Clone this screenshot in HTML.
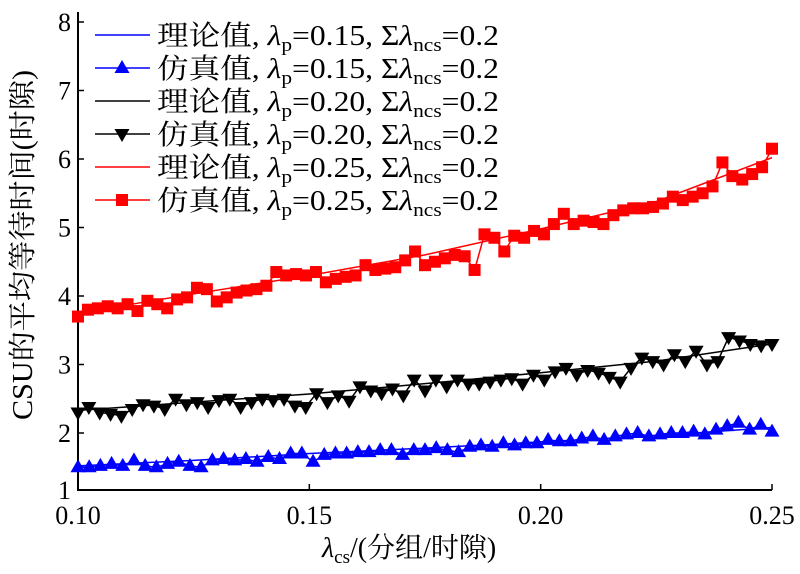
<!DOCTYPE html>
<html><head><meta charset="utf-8"><style>
body{margin:0;background:#fff}
svg text{font-family:"Liberation Serif","Noto Serif CJK SC",serif;fill:#000}
</style></head><body>
<svg id="c" width="800" height="569" xmlns="http://www.w3.org/2000/svg"></svg>
<script>
const xTicks=[0.10,0.15,0.20,0.25];
const xTickLabels=["0.10","0.15","0.20","0.25"];
const yTicks=[1,2,3,4,5,6,7,8];
const theoryX=[0.10,0.125,0.15,0.175,0.20,0.225,0.25];
const theoryRed=[3.75,4.03,4.3,4.6,4.98,5.38,6.02];
const theoryBlack=[2.33,2.45,2.57,2.72,2.88,3.05,3.3];
const theoryBlue=[1.52,1.6,1.7,1.78,1.87,1.96,2.08];
const simRed=[3.7,3.8,3.82,3.85,3.82,3.88,3.78,3.93,3.88,3.82,3.95,3.98,4.12,4.1,3.92,3.98,4.05,4.08,4.1,4.15,4.35,4.3,4.32,4.3,4.35,4.2,4.25,4.28,4.3,4.45,4.38,4.4,4.42,4.52,4.65,4.45,4.5,4.55,4.6,4.58,4.38,4.9,4.85,4.65,4.88,4.85,4.95,4.9,5.05,5.2,5.05,5.1,5.08,5.05,5.18,5.25,5.28,5.28,5.3,5.35,5.45,5.4,5.45,5.5,5.6,5.95,5.75,5.7,5.78,5.88,6.15];
const simBlack=[2.3,2.38,2.3,2.28,2.25,2.35,2.42,2.4,2.35,2.5,2.42,2.45,2.38,2.48,2.5,2.38,2.45,2.5,2.48,2.5,2.4,2.38,2.58,2.45,2.55,2.47,2.68,2.62,2.58,2.65,2.55,2.78,2.62,2.78,2.68,2.78,2.72,2.72,2.75,2.78,2.8,2.72,2.85,2.78,2.9,2.95,2.85,2.92,2.88,2.82,2.75,2.95,3.1,3.05,3.0,3.15,3.05,3.2,3.0,3.05,3.4,3.35,3.3,3.28,3.3];
const simBlue=[1.5,1.5,1.52,1.55,1.52,1.6,1.52,1.5,1.55,1.58,1.52,1.5,1.6,1.62,1.6,1.62,1.58,1.65,1.62,1.7,1.7,1.58,1.68,1.7,1.7,1.72,1.72,1.75,1.75,1.68,1.75,1.75,1.78,1.75,1.72,1.8,1.82,1.8,1.85,1.82,1.85,1.85,1.9,1.88,1.88,1.92,1.95,1.9,1.95,1.98,2.0,1.95,1.98,2.0,2.0,2.02,1.98,2.05,2.1,2.15,2.05,2.12,2.02];

const NS="http://www.w3.org/2000/svg";
const svg=document.getElementById('c');
const X=v=>78+(v-0.10)/0.15*694;
const Y=v=>433-(v-2)*68.5;
function el(t,a,p){const e=document.createElementNS(NS,t);for(const k in a)e.setAttribute(k,a[k]);(p||svg).appendChild(e);return e;}
function simX(arr,i){return 0.10+i*0.15/(arr.length-1);}

let ax=el('path',{d:'M78,12 L78,490 L772,490',fill:'none',stroke:'#000','stroke-width':2});


yTicks.forEach(v=>{
  const y=v===1?490:Y(v);
  el('line',{x1:78,x2:84,y1:y,y2:y,stroke:'#000','stroke-width':1.5});
  const t=el('text',{x:71,y:y+9,'text-anchor':'end','font-size':26});
  t.textContent=v;
  
  
});
xTicks.forEach((v,i)=>{
  const x=X(v);
  el('line',{x1:x,x2:x,y1:490,y2:484,stroke:'#000','stroke-width':1.5});
  const t=el('text',{x:x,y:524,'text-anchor':'middle','font-size':26});
  t.textContent=xTickLabels[i];
  
  
});
let yl=el('text',{x:0,y:0,transform:'translate(32,245) rotate(-90)','text-anchor':'middle','font-size':28,textLength:350,lengthAdjust:'spacingAndGlyphs'});
yl.textContent='CSU的平均等待时间(时隙)';


let xl=el('text',{x:322,y:557,'font-size':28});
xl.innerHTML='<tspan font-style="italic">λ</tspan><tspan font-size="19" dy="6">cs</tspan><tspan dy="-6">/(分组/时隙)</tspan>';



function marker(type,x,y,color,g){
  if(type==='sq') return el('rect',{x:x-6,y:y-6,width:12,height:12,fill:color},g);
  if(type==='up') return el('polygon',{points:`${x},${y-8} ${x-7.5},${y+5} ${x+7.5},${y+5}`,fill:color},g);
  return el('polygon',{points:`${x},${y+8} ${x-7.5},${y-5} ${x+7.5},${y-5}`,fill:color},g);
}
function theory(vals,color,name){
  const p=el('polyline',{points:vals.map((v,i)=>X(theoryX[i])+','+Y(v)).join(' '),fill:'none',stroke:color,'stroke-width':1.5});
  
  
}
function sim(vals,color,type,name){
  const g=el('g',{});
  
  
  el('polyline',{points:vals.map((v,i)=>X(simX(vals,i))+','+Y(v)).join(' '),fill:'none',stroke:color,'stroke-width':1.5},g);
  vals.forEach((v,i)=>{const m=marker(type,X(simX(vals,i)),Y(v),color,g);
    
    });
}
theory(theoryBlue,'#0000ff','theory-line-0.15');
sim(simBlue,'#0000ff','up','sim-series-0.15');
theory(theoryBlack,'#000','theory-line-0.20');
sim(simBlack,'#000','down','sim-series-0.20');
theory(theoryRed,'#ff0000','theory-line-0.25');
sim(simRed,'#ff0000','sq','sim-series-0.25');

const legLabels=['理论值','仿真值','理论值','仿真值','理论值','仿真值'];
const legP=['0.15','0.15','0.20','0.20','0.25','0.25'];
const legColors=['#0000ff','#0000ff','#000','#000','#ff0000','#ff0000'];
const legMarks=[null,'up',null,'down',null,'sq'];
legLabels.forEach((lab,i)=>{
  const y=35+i*33;
  const g=el('g',{});
  
  
  el('line',{x1:95,x2:150,y1:y,y2:y,stroke:legColors[i],'stroke-width':1.5},g);
  if(legMarks[i])marker(legMarks[i],122,y,legColors[i],g);
  const t=el('text',{x:157,y:y+10,'font-size':28,textLength:342,lengthAdjust:'spacingAndGlyphs'},g);
  t.innerHTML=lab+', <tspan font-style="italic">λ</tspan><tspan font-size="19" dy="6">p</tspan><tspan dy="-6">='+legP[i]+', Σ</tspan><tspan font-style="italic">λ</tspan><tspan font-size="19" dy="6">ncs</tspan><tspan dy="-6">=0.2</tspan>';
});
</script>
</body></html>
